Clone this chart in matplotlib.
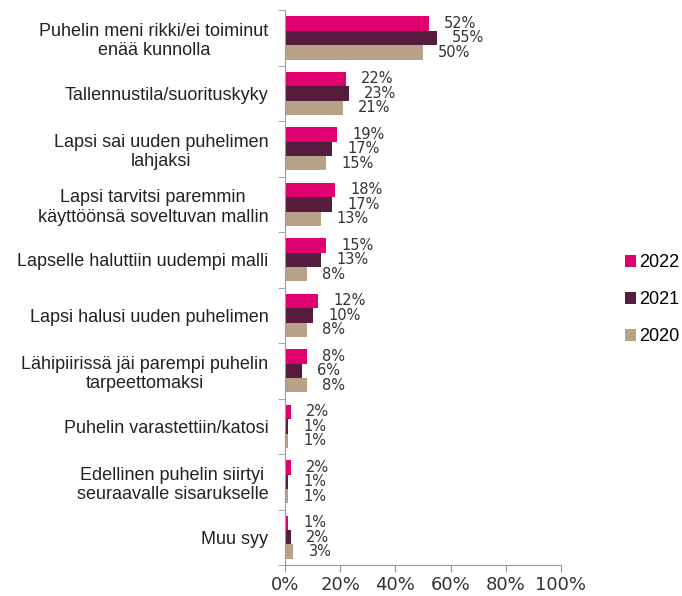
import matplotlib.pyplot as plt
import numpy as np

categories = [
    "Puhelin meni rikki/ei toiminut\nenää kunnolla",
    "Tallennustila/suorituskyky",
    "Lapsi sai uuden puhelimen\nlahjaksi",
    "Lapsi tarvitsi paremmin\nkäyttöönsä soveltuvan mallin",
    "Lapselle haluttiin uudempi malli",
    "Lapsi halusi uuden puhelimen",
    "Lähipiirissä jäi parempi puhelin\ntarpeettomaksi",
    "Puhelin varastettiin/katosi",
    "Edellinen puhelin siirtyi\nseuraavalle sisarukselle",
    "Muu syy",
]
years = ["2022", "2021", "2020"]
v2022 = [52, 22, 19, 18, 15, 12, 8, 2, 2, 1]
v2021 = [55, 23, 17, 17, 13, 10, 6, 1, 1, 2]
v2020 = [50, 21, 15, 13, 8, 8, 8, 1, 1, 3]
xticks = [0, 20, 40, 60, 80, 100]
colors = ["#E0006F", "#561C3E", "#B8A28A"]

fig = plt.figure(figsize=(6.82, 5.96), dpi=100)
ax = fig.add_axes([0.418, 0.052, 0.4045, 0.931])

n = len(categories)
y = np.arange(n)
h = 0.26
series = [v2022, v2021, v2020]
for i, (vals, c, lab) in enumerate(zip(series, colors, years)):
    pos = y + (i - 1) * h
    ax.barh(pos, vals, height=h, color=c, label=lab)
    for p, v in zip(pos, vals):
        ax.annotate(f"{v}%", (v, p), xytext=(11, 0), textcoords="offset points",
                    va="center", ha="left", fontsize=10.5, color="#333333",
                    family="DejaVu Sans")

ax.set_ylim(n - 0.5, -0.5)
ax.set_xlim(0, 100)
ax.set_yticks(y)
ax.set_yticklabels(categories, fontsize=13, family="Liberation Sans", color="#222222",
                   linespacing=1.2, multialignment="center")
ax.tick_params(axis="y", which="major", length=0, pad=12)
ax.set_yticks(np.arange(-0.5, n, 1), minor=True)
ax.tick_params(axis="y", which="minor", length=5, color="#999999")
ax.set_xticks(xticks)
ax.set_xticklabels([f"{t}%" for t in xticks], fontsize=13, family="DejaVu Sans", color="#333333")
ax.tick_params(axis="x", length=5, color="#999999", pad=3)
for s in ["top", "right"]:
    ax.spines[s].set_visible(False)
for s in ["left", "bottom"]:
    ax.spines[s].set_color("#999999")

handles, labels = ax.get_legend_handles_labels()
fig.legend(handles, labels, loc="center left", bbox_to_anchor=(0.916, 0.497),
           frameon=False, handlelength=0.6, handleheight=0.6,
           labelspacing=1.1, handletextpad=0.2, borderaxespad=0, borderpad=0,
           prop={"family": "Liberation Sans", "size": 13})

fig.savefig("out.png", dpi=100)
